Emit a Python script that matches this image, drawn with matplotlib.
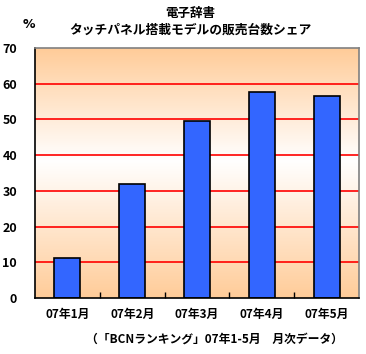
import matplotlib
matplotlib.use("Agg")
import matplotlib.pyplot as plt
import numpy as np
from matplotlib.colors import LinearSegmentedColormap

plt.rcParams['font.family'] = ['Noto Sans CJK JP', 'DejaVu Sans']

categories = ["07年1月", "07年2月", "07年3月", "07年4月", "07年5月"]
values = [11.2, 31.9, 49.6, 57.7, 56.6]
yticks = [0, 10, 20, 30, 40, 50, 60, 70]

fig = plt.figure(figsize=(3.66, 3.54), dpi=100)
W, H = 366, 354
ax = fig.add_axes([35 / W, 1 - 298 / H, (359 - 35) / W, (298 - 48) / H])

# gradient background
cmap = LinearSegmentedColormap.from_list("bg", [(0, "#FFCC99"), (0.55, "#FFFFFF"), (1, "#FFCC99")])
grad = np.linspace(0, 1, 256).reshape(-1, 1)
ax.imshow(grad, extent=[-0.5, 4.5, 0, 70], aspect="auto", cmap=cmap, zorder=0, origin="lower")

x = np.arange(len(categories))
for v in yticks[1:-1]:
    ax.axhline(v, color="#FF0000", lw=1.2, zorder=1)
ax.bar(x, values, width=0.4, color="#3366FF", edgecolor="black", linewidth=1.2, zorder=2)

ax.set_xlim(-0.5, 4.5)
ax.set_ylim(0, 70)
ax.set_yticks(yticks)
ax.set_yticklabels([str(t) for t in yticks], fontweight="bold", fontsize=9)
ax.set_xticks(x)
ax.set_xticklabels(categories, fontweight="bold", fontsize=8.5)
ax.tick_params(axis="x", length=0, pad=7)
ax.tick_params(axis="y", length=0, pad=13)
# minor ticks between categories
ax.set_xticks(np.arange(0.5, 4.5, 1), minor=True)
ax.tick_params(axis="x", which="minor", direction="in", length=4, width=1, color="black")

for s in ["top", "right"]:
    ax.spines[s].set_color("#808080")
    ax.spines[s].set_linewidth(1.2)
for s in ["left", "bottom"]:
    ax.spines[s].set_color("black")
    ax.spines[s].set_linewidth(1.2)

fig.text(190 / W, 1 - 13 / H, "電子辞書", ha="center", va="center", fontsize=9, fontweight="bold")
fig.text(190 / W, 1 - 30 / H, "タッチパネル搭載モデルの販売台数シェア", ha="center", va="center", fontsize=9.2, fontweight="bold")
fig.text(29 / W, 1 - 25 / H, "%", ha="center", va="center", fontsize=9, fontweight="bold", family="DejaVu Sans")
fig.text(214 / W, 1 - 339 / H, "（「BCNランキング」07年1-5月　月次データ）", ha="center", va="center", fontsize=8.5, fontweight="bold")

fig.savefig("out.png", dpi=100, facecolor="white")
